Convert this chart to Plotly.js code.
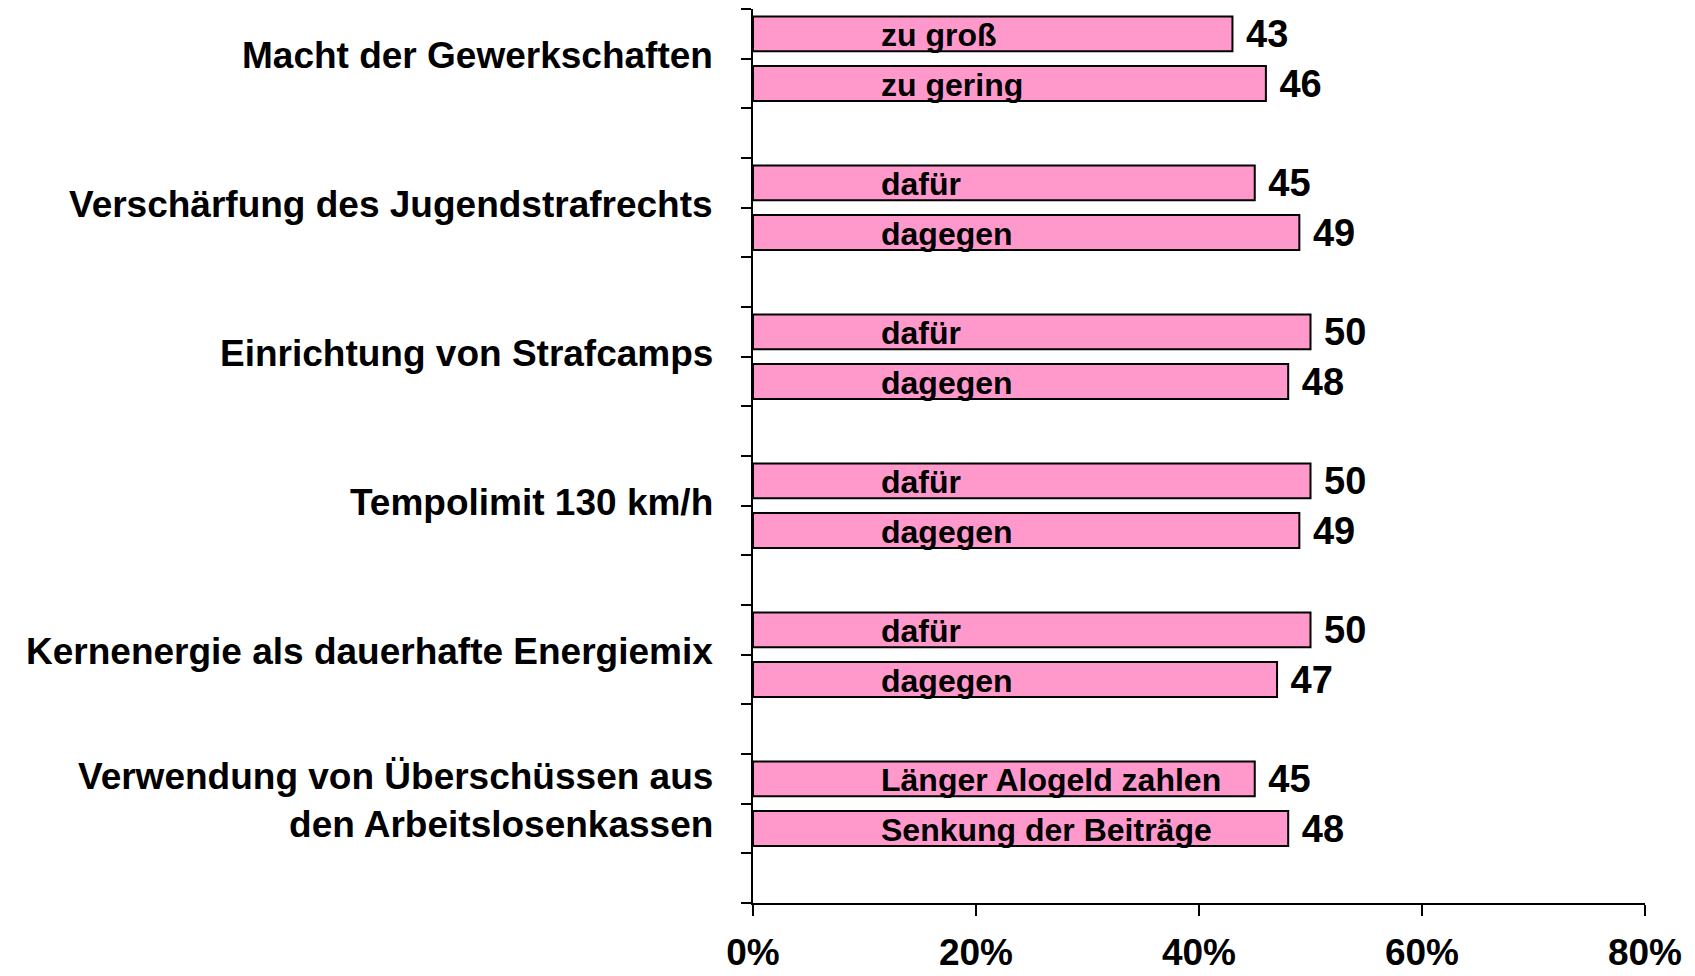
<!DOCTYPE html>
<html>
<head>
<meta charset="utf-8">
<script src="https://cdn.plot.ly/plotly-3.0.1.min.js"></script>
<style>html,body{margin:0;padding:0;background:#fff;}#chart{width:1695px;height:976px;}</style>
</head>
<body>
<div id="chart"></div>
<script>
// ---- data ----
const categories = [
  "Macht der Gewerkschaften",
  "Verschärfung des Jugendstrafrechts",
  "Einrichtung von Strafcamps",
  "Tempolimit 130 km/h",
  "Kernenergie als dauerhafte Energiemix",
  "Verwendung von Überschüssen aus<br>den Arbeitslosenkassen"
];
const optionLabels = [
  ["zu groß", "zu gering"],
  ["dafür", "dagegen"],
  ["dafür", "dagegen"],
  ["dafür", "dagegen"],
  ["dafür", "dagegen"],
  ["Länger Alogeld zahlen", "Senkung der Beiträge"]
];
const values = [
  [43, 46],
  [45, 49],
  [50, 48],
  [50, 49],
  [50, 47],
  [45, 48]
];
const xTickVals = [0, 20, 40, 60, 80];
const xTickText = ["0%", "20%", "40%", "60%", "80%"];

// ---- build ----
const FONT = "Liberation Sans, Arial, Helvetica, sans-serif";
const ys = [], xs = [], inner = [];
categories.forEach((c, i) => {
  values[i].forEach((v, j) => {
    ys.push(3 * i + j + 0.5);
    xs.push(v);
    inner.push(optionLabels[i][j]);
  });
});

const trace = {
  type: "bar",
  orientation: "h",
  x: xs,
  y: ys,
  width: 0.7,
  marker: { color: "#FF99CC", line: { color: "#000", width: 2 } },
  text: xs.map(v => "\u00a0" + v),
  textposition: "outside",
  constraintext: "none",
  cliponaxis: false,
  textfont: { family: FONT, size: 38, color: "#000", weight: "bold" },
  hoverinfo: "skip"
};

const annotations = [];
inner.forEach((t, k) => {
  annotations.push({
    x: 11.3, y: ys[k], xref: "x", yref: "y",
    text: "<b>" + t + "</b>", showarrow: false, xanchor: "left", yanchor: "middle",
    yshift: -1,
    font: { family: FONT, size: 32, color: "#000" }
  });
});
categories.forEach((c, i) => {
  annotations.push({
    x: 0, y: 3 * i + 1, xref: "paper", yref: "y",
    text: "<b>" + c + "</b>", showarrow: false, xanchor: "right", yanchor: "middle",
    align: "right", xshift: -38, yshift: 3,
    font: { family: FONT, size: 37, color: "#000" }
  });
});

const layout = {
  width: 1695, height: 976,
  margin: { l: 753, r: 50, t: 9, b: 73, pad: 0 },
  paper_bgcolor: "#fff", plot_bgcolor: "#fff",
  showlegend: false,
  xaxis: {
    range: [0, 80], tickvals: xTickVals, ticktext: xTickText,
    showgrid: false, zeroline: false, showline: true, linecolor: "#000", linewidth: 2,
    ticks: "outside", ticklen: 11, tickwidth: 2, tickcolor: "#000",
    ticklabelstandoff: 5,
    tickfont: { family: FONT, size: 37, color: "#000", weight: "bold" },
    fixedrange: true
  },
  yaxis: {
    range: [18, 0], tick0: 0, dtick: 1, tickmode: "linear",
    showticklabels: false, showgrid: false, zeroline: false,
    showline: true, linecolor: "#000", linewidth: 2,
    ticks: "outside", ticklen: 10, tickwidth: 2, tickcolor: "#000",
    fixedrange: true
  },
  annotations: annotations
};

Plotly.newPlot("chart", [trace], layout, { displayModeBar: false, staticPlot: true });
</script>
</body>
</html>
